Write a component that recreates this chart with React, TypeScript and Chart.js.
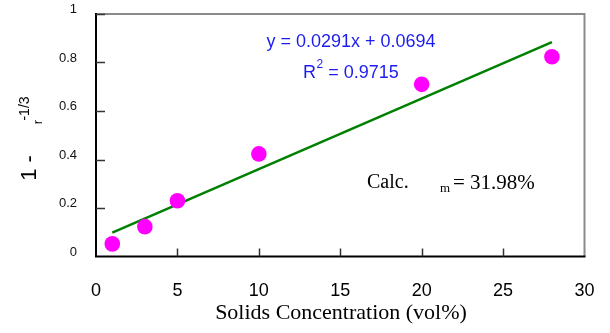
import React, { useEffect, useRef } from "react";
import { Chart, registerables } from "chart.js";

Chart.register(...registerables);

const solidsX = [1, 3, 5, 10, 20, 28];
const valuesY = [0.052, 0.123, 0.23, 0.423, 0.71, 0.824];
const trendX = [1, 28];
const trendY = [0.0985, 0.884];
const xTickLabels = ["0", "5", "10", "15", "20", "25", "30"];
const yTickLabels = ["0", "0.2", "0.4", "0.6", "0.8", "1"];
const equationText = "y = 0.0291x + 0.0694";
const r2Value = " = 0.9715";
const calcValue = "= 31.98%";
const xTitle = "Solids Concentration (vol%)";

const SANS = "'Liberation Sans', Arial, sans-serif";
const SERIF = "'Liberation Serif', 'Times New Roman', serif";
const BLUE = "#1c1cf0";

const framePlugin = {
  id: "frame",
  beforeDatasetsDraw(chart: any) {
    const { ctx, chartArea } = chart;
    const { left, right, top, bottom } = chartArea;
    const xs = chart.scales.x;
    const ys = chart.scales.y;
    ctx.save();
    ctx.lineWidth = 2;
    ctx.strokeStyle = "#8a8a8a";
    ctx.beginPath();
    ctx.moveTo(left, top);
    ctx.lineTo(right, top);
    ctx.lineTo(right, bottom);
    ctx.stroke();
    ctx.strokeStyle = "#000";
    ctx.beginPath();
    ctx.moveTo(left, top - 1);
    ctx.lineTo(left, bottom);
    ctx.lineTo(right + 1, bottom);
    ctx.stroke();
    ctx.lineWidth = 1.5;
    ctx.strokeStyle = "#333";
    ys.ticks.forEach((t: any) => {
      if (t.value === 0) return;
      const y = Math.round(ys.getPixelForValue(t.value)) + 0.5;
      ctx.beginPath();
      ctx.moveTo(left, y);
      ctx.lineTo(left + 9, y);
      ctx.stroke();
    });
    xs.ticks.forEach((t: any) => {
      if (t.value === 0 || t.value === 30) return;
      const x = Math.round(xs.getPixelForValue(t.value)) + 0.5;
      ctx.beginPath();
      ctx.moveTo(x, bottom);
      ctx.lineTo(x, bottom - 8);
      ctx.stroke();
    });
    ctx.restore();
  },
  afterDraw(chart: any) {
    const { ctx } = chart;
    ctx.save();
    const rot = (text: string, x: number, y: number, font: string) => {
      ctx.save();
      ctx.translate(x, y);
      ctx.rotate(-Math.PI / 2);
      ctx.font = font;
      ctx.fillStyle = "#000";
      ctx.textAlign = "center";
      ctx.textBaseline = "middle";
      ctx.fillText(text, 0, 0);
      ctx.restore();
    };
    rot("1 -", 30, 168, `22px ${SANS}`);
    rot("r", 38.5, 122, `13px ${SANS}`);
    rot("-1/3", 25, 108.5, `14px ${SANS}`);

    ctx.fillStyle = BLUE;
    ctx.textBaseline = "middle";
    ctx.textAlign = "center";
    ctx.font = `18px ${SANS}`;
    ctx.fillText(equationText, 351, 42);
    ctx.textAlign = "left";
    let x = 303;
    ctx.fillText("R", x, 73);
    x += ctx.measureText("R").width;
    ctx.font = `12px ${SANS}`;
    ctx.fillText("2", x + 0.5, 65);
    x += ctx.measureText("2").width + 0.5;
    ctx.font = `18px ${SANS}`;
    ctx.fillText(r2Value, x, 73);

    ctx.fillStyle = "#000";
    ctx.font = `20px ${SERIF}`;
    ctx.fillText("Calc.", 367, 183);
    ctx.font = `13px ${SERIF}`;
    ctx.fillText("m", 440, 189);
    ctx.font = `21px ${SERIF}`;
    ctx.fillText(calcValue, 453, 183);

    ctx.textAlign = "center";
    ctx.font = `22px ${SERIF}`;
    ctx.fillText(xTitle, 341, 313);
    ctx.restore();
  },
};

export default function App() {
  const ref = useRef<HTMLCanvasElement>(null);
  useEffect(() => {
    document.body.style.margin = "0";
    const chart = new Chart(ref.current as HTMLCanvasElement, {
      type: "scatter",
      data: {
        datasets: [
          {
            type: "line",
            data: trendX.map((v, i) => ({ x: v, y: trendY[i] })),
            borderColor: "#008000",
            borderWidth: 2.5,
            pointRadius: 0,
            fill: false,
            order: 2,
          } as any,
          {
            type: "scatter",
            data: solidsX.map((v, i) => ({ x: v, y: valuesY[i] })),
            backgroundColor: "#ff00ff",
            borderColor: "#ff00ff",
            pointRadius: 7.8,
            pointBorderWidth: 0,
            order: 1,
          },
        ],
      },
      options: {
        responsive: false,
        animation: false,
        layout: { padding: { left: 0, right: 25.5, top: 14, bottom: 0 } },
        plugins: { legend: { display: false }, tooltip: { enabled: false } },
        scales: {
          x: {
            type: "linear",
            min: 0,
            max: 30,
            grid: { display: false, drawTicks: true, tickLength: 24 },
            border: { display: false },
            ticks: {
              stepSize: 5,
              padding: 0,
              color: "#000",
              font: { family: SANS, size: 18 },
              maxRotation: 0,
              callback: (_v: any, i: number) => xTickLabels[i],
            },
            afterFit: (s: any) => {
              s.height = 333 - 256.5;
            },
          },
          y: {
            type: "linear",
            min: 0,
            max: 1,
            grid: { display: false, drawTicks: true, tickLength: 19 },
            border: { display: false },
            ticks: {
              stepSize: 0.2,
              padding: 0,
              labelOffset: -4.5,
              color: "#111",
              font: { family: SANS, size: 13 },
              callback: (_v: any, i: number) => yTickLabels[i],
            },
            afterFit: (s: any) => {
              s.width = 96;
            },
          },
        },
      },
      plugins: [framePlugin],
    });
    return () => chart.destroy();
  }, []);
  return (
    <div style={{ width: 610, height: 333, position: "relative" }}>
      <canvas ref={ref} width={610} height={333} style={{ display: "block" }} />
    </div>
  );
}
